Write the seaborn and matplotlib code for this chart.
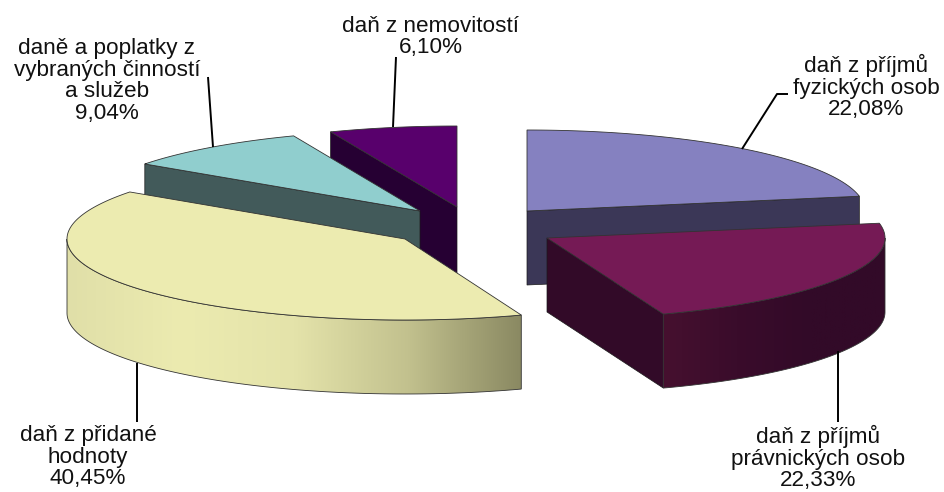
import numpy as np
import seaborn as sns
import matplotlib.pyplot as plt
from matplotlib.colors import LinearSegmentedColormap

# -----------------------------
# DATA
# -----------------------------
labels = ["daň z příjmů\nfyzických osob", "daň z příjmů\nprávnických osob",
          "daň z přidané\nhodnoty", "daně a poplatky z\nvybraných činností\na služeb",
          "daň z nemovitostí"]
values = [22.08, 22.33, 40.45, 9.04, 6.10]

# -----------------------------
# STYLE / LAYOUT (pixels)
# -----------------------------
apex = [(527, 211), (547, 238), (405, 239), (420, 211), (457, 207)]
top_colors = ["#8581c0", "#751a55", "#ecebb0", "#90cece", "#58006c"]
side_colors = ["#3b3757", "#320a28", "#d8d7a0", "#425a5a", "#260033"]
wall_ramps = {1: ["#46102f", "#3a0c2b", "#320a28", "#320a28"],
              2: ["#e0dfa8", "#ecebb0", "#e4e3aa", "#c2c18e", "#8a8962"]}
text_pos = [(866, 87), (818, 458), (88, 457), (107, 81), (431, 37)]
leaders = [[(788, 94), (777, 94), (742, 149)],
           [(838, 351), (838, 422)],
           [(137, 363), (137, 422)],
           [(208, 77), (213, 147)],
           [(396, 57), (393, 127)]]
RX, RY, DEPTH = 338, 81, 74
draw_order = [4, 3, 0, 2, 1]

sns.set_theme(style="white")
plt.rcParams["font.family"] = ["Liberation Sans", "DejaVu Sans"]

fig = plt.figure(figsize=(9.45, 4.92), dpi=100)
ax = fig.add_axes([0, 0, 1, 1])
ax.axis("off")

# start at 12 o'clock, going clockwise
shares = np.array(values) / sum(values) * 360
ends = np.cumsum(shares)
starts = ends - shares


def rim(c, deg):
    t = np.radians(deg)
    return c[0] + RX * np.sin(t), c[1] - RY * np.cos(t)


def radial_wall(c, deg, color):
    x, y = rim(c, deg)
    ax.fill([c[0], x, x, c[0]], [c[1], y, y + DEPTH, c[1] + DEPTH],
            fc=color, ec="#1a1a1a", lw=0.5, zorder=z)


z = 1
for i in draw_order:
    c, a0, a1 = apex[i], starts[i], ends[i]

    # flat side walls, only the ones facing the viewer
    if np.sin(np.radians(a0)) < -0.01:
        radial_wall(c, a0, side_colors[i])
    if np.sin(np.radians(a1)) > 0.01:
        radial_wall(c, a1, side_colors[i])

    # curved outer wall, a horizontal gradient clipped to the wall shape
    lo, hi = max(a0, 90), min(a1, 270)
    if lo < hi:
        ramp = LinearSegmentedColormap.from_list("w", wall_ramps[i])
        xs, ys = rim(c, np.linspace(lo, hi, 160))
        wall = ax.fill(np.r_[xs, xs[::-1]], np.r_[ys, ys[::-1] + DEPTH],
                       fc="none", ec="#333333", lw=0.6, zorder=z + 0.2)[0]
        img = ax.imshow(np.linspace(0, 1, 256)[None, :], cmap=ramp, aspect="auto",
                        extent=(xs.min(), xs.max(), ys.max() + DEPTH, ys.min()),
                        zorder=z + 0.1)
        img.set_clip_path(wall)

    # top face
    xs, ys = rim(c, np.linspace(a0, a1, 200))
    ax.fill(np.r_[c[0], xs], np.r_[c[1], ys], fc=top_colors[i], ec="#333333", lw=0.6, zorder=z + 0.3)
    z += 1

ax.set_xlim(0, 945)
ax.set_ylim(492, 0)

# labels and leader lines
for i in range(len(values)):
    pts = np.array(leaders[i])
    ax.plot(pts[:, 0], pts[:, 1], color="black", lw=1.4, solid_capstyle="butt", zorder=10)
    txt = labels[i] + "\n" + f"{values[i]:.2f}".replace(".", ",") + "%"
    ax.text(text_pos[i][0], text_pos[i][1], txt, ha="center", va="center", multialignment="center",
            fontsize=16.2, linespacing=1.04, color="#111111", zorder=10)

fig.savefig("out.png", dpi=100)
